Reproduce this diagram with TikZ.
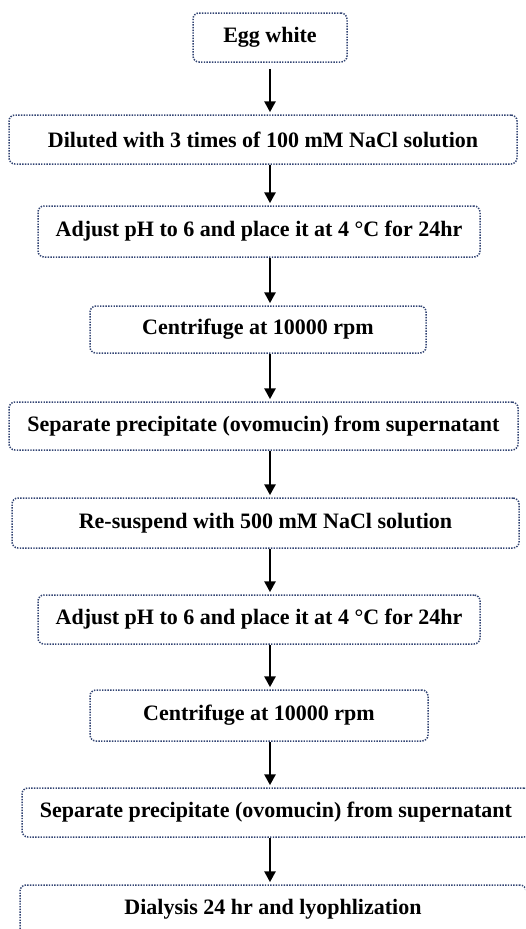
\documentclass[tikz,border=0pt]{standalone}
\usepackage{fontspec}
\setmainfont{Liberation Serif}
\usetikzlibrary{arrows.meta}
\definecolor{boxline}{RGB}{50,68,115}

\begin{document}
\begin{tikzpicture}[x=1pt,y=-1pt,
  stepbox/.style={draw=boxline,line width=1.5pt,dash pattern=on 1.4pt off 1.3pt,rounded corners=6pt,inner sep=0pt,font=\fontsize{22}{26}\selectfont\bfseries},
  flow/.style={line width=2.8pt,shorten >=2pt,-{Triangle[width=11pt,length=11pt]}}]
\useasboundingbox (0,0) rectangle (525,929);
\clip (0,0) rectangle (525,929);
\coordinate (axis) at (270,0);
\node[stepbox,minimum width=154pt,minimum height=49pt] (egg) at (270,37.5) {Egg white};
\node[stepbox,minimum width=508pt,minimum height=49pt] (dilute) at (263,139.5) {Diluted with 3 times of 100 mM NaCl solution};
\node[stepbox,minimum width=442pt,minimum height=51pt] (adjust) at (259,231.5) {Adjust pH to 6 and place it at 4 °C for 24hr};
\node[stepbox,minimum width=336pt,minimum height=47pt] (spin) at (258,329.5) {Centrifuge at 10000 rpm};
\node[stepbox,minimum width=509pt,minimum height=48pt] (separate) at (263.5,426) {Separate precipitate (ovomucin) from supernatant};
\node[stepbox,minimum width=507pt,minimum height=50pt] (resuspend) at (265.5,523) {Re-suspend with 500 mM NaCl solution};
\node[stepbox,minimum width=442pt,minimum height=49pt] (adjustb) at (259,619.5) {Adjust pH to 6 and place it at 4 °C for 24hr};
\node[stepbox,minimum width=338pt,minimum height=51pt] (spinb) at (259,715.5) {Centrifuge at 10000 rpm};
\node[stepbox,minimum width=508pt,minimum height=49pt] (separateb) at (276,812.5) {Separate precipitate (ovomucin) from supernatant};
\node[stepbox,minimum width=506pt,minimum height=49pt] (dialysis) at (273,909.5) {Dialysis 24 hr and lyophlization};
% arrows down the column
\draw[flow,shorten <=6pt] (egg.south -| axis) -- (dilute.north -| axis);
\draw[flow] (dilute.south -| axis) -- (adjust.north -| axis);
\draw[flow] (adjust.south -| axis) -- (spin.north -| axis);
\draw[flow] (spin.south -| axis) -- (separate.north -| axis);
\draw[flow] (separate.south -| axis) -- (resuspend.north -| axis);
\draw[flow] (resuspend.south -| axis) -- (adjustb.north -| axis);
\draw[flow] (adjustb.south -| axis) -- (spinb.north -| axis);
\draw[flow] (spinb.south -| axis) -- (separateb.north -| axis);
\draw[flow] (separateb.south -| axis) -- (dialysis.north -| axis);
\end{tikzpicture}
\end{document}
